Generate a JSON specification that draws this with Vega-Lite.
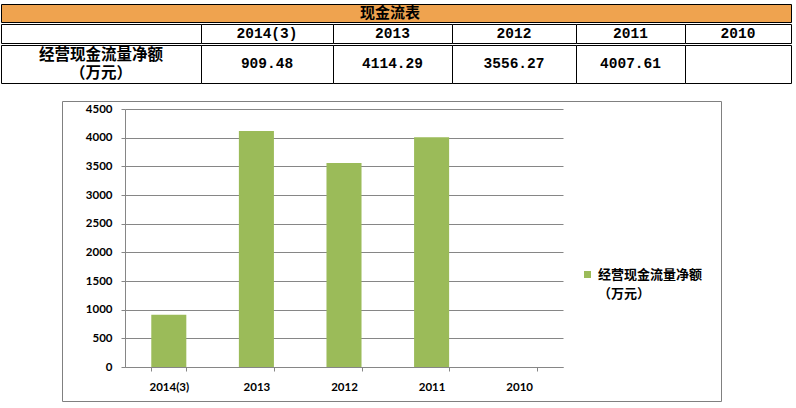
{
  "$schema": "https://vega.github.io/schema/vega-lite/v6.json",
  "background": "white",
  "padding": {"left": 0, "top": 3, "right": 0, "bottom": 0},
  "datasets": {
    "cash": [
      {"year": "2014(3)", "value": 909.48, "series": "经营现金流量净额（万元）"},
      {"year": "2013", "value": 4114.29, "series": "经营现金流量净额（万元）"},
      {"year": "2012", "value": 3556.27, "series": "经营现金流量净额（万元）"},
      {"year": "2011", "value": 4007.61, "series": "经营现金流量净额（万元）"},
      {"year": "2010", "value": null, "series": "经营现金流量净额（万元）"}
    ]
  },
  "config": {
    "concat": {"spacing": 0},
    "view": {"stroke": null},
    "style": {"guide-label": {"lineHeight": 19}}
  },
  "spacing": 0,
  "vconcat": [
    {
      "width": 790, "height": 18,
      "data": {"values": [{}]},
      "view": {"fill": "#EFA34F", "stroke": "black"},
      "mark": {"type": "text", "font": "Noto Sans CJK SC", "fontWeight": "bold", "fontSize": 15, "color": "black", "dx": -6},
      "encoding": {"text": {"value": "现金流表"}}
    },
    {
      "bounds": "flush",
      "spacing": 0,
      "hconcat": [
        {"width": 200, "height": 19, "data": {"values": []}, "view": {"stroke": "black", "fill": "white"}, "mark": "text", "encoding": {}},
        {"width": 132, "height": 19, "data": {"name": "cash"}, "transform": [{"filter": "datum.year === '2014(3)'"}], "view": {"stroke": "black", "fill": "white"},
         "mark": {"type": "text", "font": "Liberation Mono", "fontWeight": "bold", "fontSize": 14.5, "color": "black"},
         "encoding": {"text": {"field": "year", "type": "nominal"}}},
        {"width": 119, "height": 19, "data": {"name": "cash"}, "transform": [{"filter": "datum.year === '2013'"}], "view": {"stroke": "black", "fill": "white"},
         "mark": {"type": "text", "font": "Liberation Mono", "fontWeight": "bold", "fontSize": 14.5, "color": "black"},
         "encoding": {"text": {"field": "year", "type": "nominal"}}},
        {"width": 124, "height": 19, "data": {"name": "cash"}, "transform": [{"filter": "datum.year === '2012'"}], "view": {"stroke": "black", "fill": "white"},
         "mark": {"type": "text", "font": "Liberation Mono", "fontWeight": "bold", "fontSize": 14.5, "color": "black"},
         "encoding": {"text": {"field": "year", "type": "nominal"}}},
        {"width": 109, "height": 19, "data": {"name": "cash"}, "transform": [{"filter": "datum.year === '2011'"}], "view": {"stroke": "black", "fill": "white"},
         "mark": {"type": "text", "font": "Liberation Mono", "fontWeight": "bold", "fontSize": 14.5, "color": "black"},
         "encoding": {"text": {"field": "year", "type": "nominal"}}},
        {"width": 106, "height": 19, "data": {"name": "cash"}, "transform": [{"filter": "datum.year === '2010'"}], "view": {"stroke": "black", "fill": "white"},
         "mark": {"type": "text", "font": "Liberation Mono", "fontWeight": "bold", "fontSize": 14.5, "color": "black"},
         "encoding": {"text": {"field": "year", "type": "nominal"}}}
      ]
    },
    {
      "bounds": "flush",
      "spacing": 0,
      "hconcat": [
        {"width": 200, "height": 38, "data": {"values": [{}]}, "view": {"stroke": "black", "fill": "white"},
         "mark": {"type": "text", "font": "Noto Sans CJK SC", "fontWeight": "bold", "fontSize": 15.5, "lineBreak": "\n", "lineHeight": 18, "dy": -9, "color": "black"},
         "encoding": {"text": {"value": "经营现金流量净额\n（万元）"}}},
        {"width": 132, "height": 38, "data": {"name": "cash"}, "transform": [{"filter": "datum.year === '2014(3)' && isValid(datum.value)"}], "view": {"stroke": "black", "fill": "white"},
         "mark": {"type": "text", "font": "Liberation Mono", "fontWeight": "bold", "fontSize": 14.5, "color": "black"},
         "encoding": {"text": {"field": "value", "type": "quantitative", "format": ".2f"}}},
        {"width": 119, "height": 38, "data": {"name": "cash"}, "transform": [{"filter": "datum.year === '2013' && isValid(datum.value)"}], "view": {"stroke": "black", "fill": "white"},
         "mark": {"type": "text", "font": "Liberation Mono", "fontWeight": "bold", "fontSize": 14.5, "color": "black"},
         "encoding": {"text": {"field": "value", "type": "quantitative", "format": ".2f"}}},
        {"width": 124, "height": 38, "data": {"name": "cash"}, "transform": [{"filter": "datum.year === '2012' && isValid(datum.value)"}], "view": {"stroke": "black", "fill": "white"},
         "mark": {"type": "text", "font": "Liberation Mono", "fontWeight": "bold", "fontSize": 14.5, "color": "black"},
         "encoding": {"text": {"field": "value", "type": "quantitative", "format": ".2f"}}},
        {"width": 109, "height": 38, "data": {"name": "cash"}, "transform": [{"filter": "datum.year === '2011' && isValid(datum.value)"}], "view": {"stroke": "black", "fill": "white"},
         "mark": {"type": "text", "font": "Liberation Mono", "fontWeight": "bold", "fontSize": 14.5, "color": "black"},
         "encoding": {"text": {"field": "value", "type": "quantitative", "format": ".2f"}}},
        {"width": 106, "height": 38, "data": {"name": "cash"}, "transform": [{"filter": "datum.year === '2010' && isValid(datum.value)"}], "view": {"stroke": "black", "fill": "white"},
         "mark": {"type": "text", "font": "Liberation Mono", "fontWeight": "bold", "fontSize": 14.5, "color": "black"},
         "encoding": {"text": {"field": "value", "type": "quantitative", "format": ".2f"}}}
      ]
    },
    {"width": 10, "height": 16, "data": {"values": []}, "mark": "text", "encoding": {}},
    {
      "bounds": "flush",
      "spacing": 0,
      "hconcat": [
        {"width": 61, "height": 300, "data": {"values": []}, "mark": "text", "encoding": {}},
        {
          "width": 659, "height": 300,
          "data": {"name": "cash"},
          "view": {"stroke": "#808080", "fill": "white"},
          "mark": {"type": "bar"},
          "encoding": {
            "x": {
              "field": "year", "type": "nominal", "sort": null,
              "scale": {"domain": ["2014(3)", "2013", "2012", "2011", "2010"], "range": [63, 501], "paddingInner": 0.6, "paddingOuter": 0.3},
              "axis": {"orient": "bottom", "offset": -34, "title": null, "labelAngle": 0, "tickBand": "extent", "tickSize": 4, "labelPadding": 10,
                       "domainColor": "#868686", "tickColor": "#868686", "grid": false,
                       "labelFont": "Lato", "labelFontWeight": "bold", "labelFontSize": 11.5, "labelColor": "black"}
            },
            "y": {
              "field": "value", "type": "quantitative",
              "scale": {"domain": [0, 4500], "range": [266, 8], "nice": false},
              "axis": {"values": [0, 500, 1000, 1500, 2000, 2500, 3000, 3500, 4000, 4500], "format": "d", "offset": -63, "title": null,
                       "tickSize": 4, "labelPadding": 9, "domainColor": "#868686", "tickColor": "#868686", "grid": true, "gridColor": "#868686",
                       "labelFont": "Lato", "labelFontWeight": "bold", "labelFontSize": 11.5, "labelColor": "black"}
            },
            "color": {
              "field": "series", "type": "nominal",
              "scale": {"range": ["#9BBB59"]},
              "legend": {"title": null, "orient": "none", "legendX": 580, "legendY": 264, "padding": 0,
                         "symbolType": "square", "symbolSize": 49, "symbolStrokeWidth": 0,
                         "labelFont": "Noto Sans CJK SC", "labelFontWeight": "bold", "labelFontSize": 13, "labelColor": "black",
                         "labelOffset": 4, "labelExpr": "['经营现金流量净额', '（万元）']"}
            }
          }
        }
      ]
    }
  ]
}
